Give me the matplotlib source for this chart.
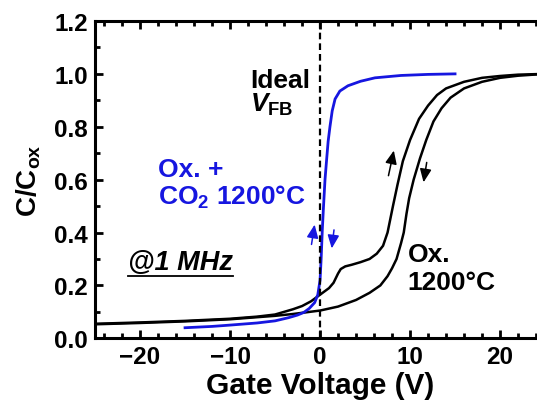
import matplotlib
matplotlib.use('Agg')
import matplotlib.pyplot as plt
from matplotlib.ticker import MultipleLocator

plt.rcParams['font.family'] = ['Liberation Sans', 'DejaVu Sans']
plt.rcParams['font.weight'] = 'bold'
plt.rcParams['axes.labelweight'] = 'bold'
plt.rcParams['mathtext.fontset'] = 'custom'
plt.rcParams['mathtext.rm'] = 'Liberation Sans:bold'
plt.rcParams['mathtext.it'] = 'Liberation Sans:bold:italic'
plt.rcParams['mathtext.bf'] = 'Liberation Sans:bold'

# Ox. 1200C, forward sweep (up arrow)
v_fwd = [-25, -20, -15, -10, -7, -5, -3, -2, -1, 0, 1, 1.5, 2, 2.3, 2.8, 3.5, 4.5,
         5.5, 6.3, 7, 7.5, 7.8, 8.1, 8.6, 9.2, 10, 11, 12, 13, 14, 16, 18, 20, 22, 25]
c_fwd = [0.055, 0.06, 0.066, 0.074, 0.082, 0.09, 0.11, 0.122, 0.14, 0.165, 0.19, 0.21,
         0.245, 0.262, 0.272, 0.278, 0.288, 0.30, 0.32, 0.35, 0.40, 0.45, 0.50, 0.58,
         0.67, 0.75, 0.83, 0.88, 0.92, 0.945, 0.97, 0.985, 0.992, 0.997, 1.0]

# Ox. 1200C, reverse sweep (down arrow)
v_rev = [-25, -20, -15, -10, -5, -3, 0, 2, 4, 5.5, 6.7, 7.5, 8.0, 8.5, 9.0, 9.3, 9.6,
         9.9, 10.4, 11.1, 11.8, 12.6, 13.5, 14.5, 16, 18, 20, 22, 25]
c_rev = [0.053, 0.058, 0.064, 0.072, 0.085, 0.092, 0.105, 0.12, 0.145, 0.172, 0.20,
         0.235, 0.265, 0.30, 0.36, 0.40, 0.47, 0.53, 0.60, 0.68, 0.75, 0.82, 0.87,
         0.91, 0.945, 0.97, 0.985, 0.993, 1.0]

# Ox. + CO2 1200C
v_co2 = [-15, -12, -10, -7, -5, -3.5, -2.5, -1.8, -1.2, -0.6, -0.25, 0, 0.12, 0.25,
         0.37, 0.55, 0.74, 0.9, 1.1, 1.35, 1.67, 2.2, 3.1, 4.5, 6.1, 9, 12, 15]
c_co2 = [0.04, 0.045, 0.05, 0.058, 0.066, 0.078, 0.088, 0.098, 0.113, 0.135, 0.165,
         0.22, 0.30, 0.41, 0.49, 0.60, 0.68, 0.745, 0.80, 0.86, 0.905, 0.935, 0.955,
         0.972, 0.985, 0.994, 0.998, 1.0]

blue = '#1616e0'

fig = plt.figure(figsize=(5.37, 4.10), dpi=100)
ax = fig.add_axes([0.177, 0.1724, 0.838, 0.774])

ax.plot(v_fwd, c_fwd, color='black', lw=1.8)
ax.plot(v_rev, c_rev, color='black', lw=1.8)
ax.plot(v_co2, c_co2, color=blue, lw=2.0)
ax.axvline(0, color='black', lw=1.6, ls=(0, (3, 1.8)))

# sweep direction arrows
arr = dict(arrowstyle='-|>,head_length=0.8,head_width=0.35', lw=1.1, shrinkA=0, shrinkB=0)
ax.annotate('', xy=(-0.6, 0.43), xytext=(-0.95, 0.355), arrowprops=dict(arr, color=blue))
ax.annotate('', xy=(1.3, 0.34), xytext=(1.55, 0.41), arrowprops=dict(arr, color=blue))
ax.annotate('', xy=(8.2, 0.71), xytext=(7.6, 0.615), arrowprops=dict(arr, color='black'))
ax.annotate('', xy=(11.5, 0.59), xytext=(11.85, 0.665), arrowprops=dict(arr, color='black'))

fs = 19
ax.text(-4.4, 0.952, 'Ideal', ha='center', va='baseline', fontsize=fs)
ax.text(-5.4, 0.862, r'$V_{\mathrm{FB}}$', ha='center', va='baseline', fontsize=fs)
ax.text(-18.0, 0.615, 'Ox. +', color=blue, ha='left', va='baseline', fontsize=fs)
ax.text(-18.0, 0.508, r'CO$_2$ 1200°C', color=blue, ha='left', va='baseline', fontsize=fs)
ax.text(9.75, 0.293, 'Ox.', ha='left', va='baseline', fontsize=fs)
ax.text(9.75, 0.186, '1200°C', ha='left', va='baseline', fontsize=fs)
mhz = ax.text(-21.3, 0.262, '@1 MHz', ha='left', va='baseline', fontsize=19.5, style='italic')

ax.set_xlim(-25, 25)
ax.set_ylim(0, 1.2)
ax.xaxis.set_major_locator(MultipleLocator(10))
ax.xaxis.set_minor_locator(MultipleLocator(2))
ax.yaxis.set_major_locator(MultipleLocator(0.2))
ax.yaxis.set_minor_locator(MultipleLocator(0.1))
ax.yaxis.set_major_formatter(plt.FormatStrFormatter('%.1f'))
ax.tick_params(which='both', direction='in', top=True, right=True, width=2)
ax.tick_params(which='major', length=6, labelsize=17.5, pad=5)
ax.tick_params(which='minor', length=3.5)
for s in ax.spines.values():
    s.set_linewidth(2.2)

ax.set_xlabel('Gate Voltage (V)', fontsize=21.5, labelpad=2)
ax.set_ylabel(r'C/C$_{\mathrm{ox}}$', fontsize=20, labelpad=8)

# underline for the frequency label
fig.canvas.draw()
bb = mhz.get_window_extent().transformed(ax.transData.inverted())
ax.plot([bb.x0, bb.x1], [bb.y0 - 0.003, bb.y0 - 0.003], color='black', lw=1.3)

fig.savefig('out.png', dpi=100)
